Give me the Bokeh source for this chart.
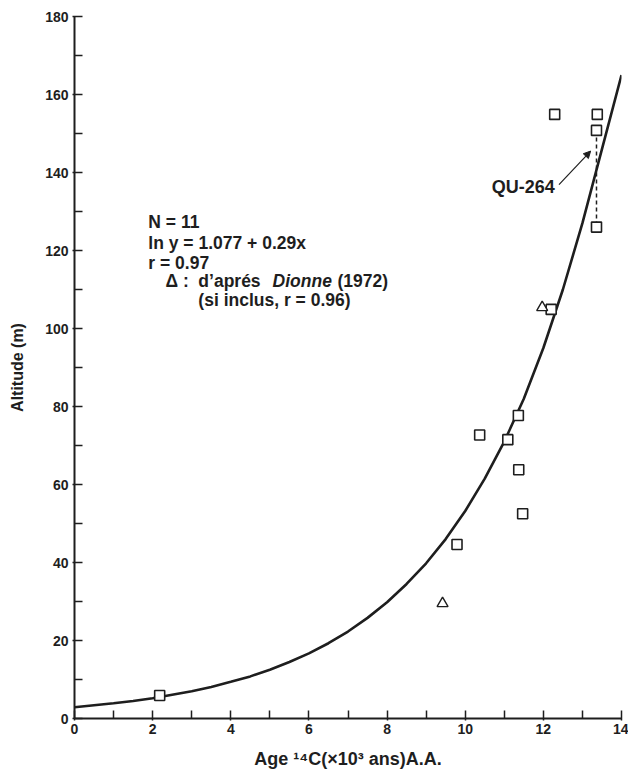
from bokeh.plotting import figure
from bokeh.models import Range1d, FixedTicker, Arrow, NormalHead
from bokeh.core.properties import value
from bokeh.embed import file_html
from bokeh.resources import INLINE

# ---- data ----
square_age = [2.18, 9.79, 10.37, 11.09, 11.36, 11.37, 11.47, 12.2, 12.29, 13.38, 13.36, 13.36]
square_alt = [5.9, 44.6, 72.7, 71.5, 77.7, 63.8, 52.5, 104.9, 154.9, 154.9, 150.8, 126.0]

triangle_age = [9.42, 11.97]
triangle_alt = [29.5, 105.4]

curve_age = [0, 0.5, 1, 1.5, 2, 2.5, 3, 3.5, 4, 4.5, 5, 5.5, 6, 6.5, 7,
             7.5, 8, 8.5, 9, 9.5, 10, 10.5, 11, 11.5, 12, 12.5, 13, 13.5, 14]
curve_alt = [2.9, 3.4, 3.9, 4.5, 5.2, 6.1, 7.0, 8.1, 9.4, 10.8, 12.5, 14.5, 16.7, 19.3, 22.3,
             25.8, 29.8, 34.5, 39.8, 46.0, 53.2, 61.5, 71.0, 82.0, 95.0, 110.0, 127.0, 146.0, 165.0]

qu264_age = [13.36, 13.36]
qu264_alt = [150.8, 126.0]

x_ticks = [0, 2, 4, 6, 8, 10, 12, 14]
x_minor = [1, 3, 5, 7, 9, 11, 13]
y_ticks = [0, 20, 40, 60, 80, 100, 120, 140, 160, 180]
y_minor = [10, 30, 50, 70, 90, 110, 130, 150, 170]

x_label = "Age ¹⁴C(×10³ ans)A.A."
y_label = "Altitude (m)"

stat_lines = ["N = 11", "ln y =  1.077 + 0.29x", "r = 0.97"]
note_symbol = "Δ :"
note_pre = "d’aprés"
note_author = "Dionne"
note_year = "(1972)"
note_line2 = "(si inclus, r = 0.96)"
qu_label = "QU-264"

FONT = "Liberation Sans"
INK = "#1e1e1e"

p = figure(width=628, height=772, output_backend="svg", toolbar_location=None,
           x_range=Range1d(0, 14), y_range=Range1d(0, 180),
           min_border_left=74, min_border_right=7, min_border_top=16, min_border_bottom=54,
           background_fill_color="white", border_fill_color="white")
p.outline_line_color = None
p.grid.visible = False

for ax in (p.xaxis, p.yaxis):
    ax.axis_line_width = 2
    ax.axis_line_color = INK
    ax.major_tick_line_color = INK
    ax.minor_tick_line_color = INK
    ax.major_tick_line_width = 1.5
    ax.minor_tick_line_width = 1.5
    ax.major_tick_in = 8
    ax.major_tick_out = 2
    ax.minor_tick_in = 8
    ax.minor_tick_out = 0
    ax.major_label_text_font = FONT
    ax.major_label_text_font_style = "bold"
    ax.major_label_text_font_size = "14px"
    ax.major_label_text_color = INK
    ax.axis_label_text_font = FONT
    ax.axis_label_text_font_style = "bold"
    ax.axis_label_text_color = INK

p.xaxis.ticker = FixedTicker(ticks=x_ticks, minor_ticks=x_minor)
p.yaxis.ticker = FixedTicker(ticks=y_ticks, minor_ticks=y_minor)
p.xaxis.axis_label = x_label
p.yaxis.axis_label = y_label
p.xaxis.axis_label_text_font_size = "18px"
p.yaxis.axis_label_text_font_size = "16px"
p.xaxis.major_label_standoff = 3
p.xaxis.axis_label_standoff = 12
p.yaxis.major_label_standoff = 4
p.yaxis.axis_label_standoff = 16

# fitted curve
p.line(curve_age, curve_alt, line_color=INK, line_width=2.6)

# QU-264 dashed range
p.line(qu264_age, qu264_alt, line_color=INK, line_width=1.5, line_dash="4 3")

# points
p.scatter(square_age, square_alt, marker="square", size=10, fill_color="white",
          line_color=INK, line_width=1.6)
p.scatter(triangle_age, triangle_alt, marker="triangle", size=11, fill_color="white",
          line_color=INK, line_width=1.4)

# arrow for QU-264
p.add_layout(Arrow(end=NormalHead(size=7, fill_color=INK, line_color=INK, line_width=1),
                   x_start=12.40, y_start=136.9, x_end=13.21, y_end=145.5,
                   line_color=INK, line_width=1.2))

txt = dict(text_font=value(FONT), text_font_size=value("17.5px"), text_color=INK,
           text_baseline="middle", text_align="left")

p.text(x=[1.89, 1.89, 1.89], y=[127.2, 121.8, 116.7], text=stat_lines,
       text_font_style="bold", **txt)
p.text(x=[2.33, 3.17, 6.73, 3.17], y=[112.1, 112.1, 112.1, 107.2],
       text=[note_symbol, note_pre, note_year, note_line2],
       text_font_style="bold", **txt)
p.text(x=[5.07], y=[112.1], text=[note_author], text_font_style="bold italic", **txt)

p.text(x=[12.29], y=[136.2], text=[qu_label], text_font=value(FONT),
       text_font_size=value("18px"), text_font_style="bold", text_color=INK,
       text_baseline="middle", text_align="right")

open("out.html", "w").write(file_html(p, INLINE))
